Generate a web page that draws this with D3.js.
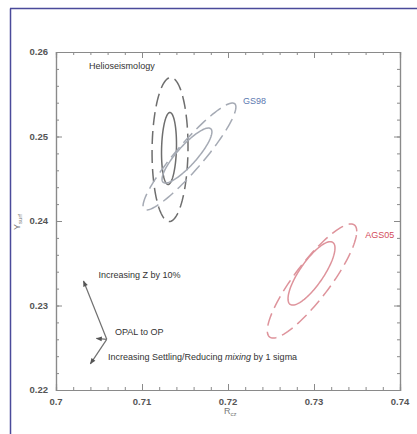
<!DOCTYPE html>
<html><head><meta charset="utf-8">
<script src="https://cdn.jsdelivr.net/npm/d3@7/dist/d3.min.js"></script>
<style>
html,body{margin:0;padding:0;background:#fff;}
svg{display:block;font-family:"Liberation Sans",Arial,Helvetica,sans-serif;}
</style></head>
<body>
<svg id="c" width="417" height="434"></svg>
<script>
// ---- data ----
const xTicks = [0.70, 0.71, 0.72, 0.73, 0.74];
const xTickLabels = ["0.7", "0.71", "0.72", "0.73", "0.74"];
const yTicks = [0.22, 0.23, 0.24, 0.25, 0.26];
const yTickLabels = ["0.22", "0.23", "0.24", "0.25", "0.26"];
// ellipses: name, center x, center y, half x-extent, half y-extent, correlation, dashed
const ellipseNames = ["helio-2s", "helio-1s", "gs98-2s", "gs98-1s", "ags05-2s", "ags05-1s"];
const ellipseCx  = [0.71326, 0.71314, 0.71552, 0.71523, 0.72977, 0.72971];
const ellipseCy  = [0.24846, 0.24858, 0.24763, 0.24775, 0.23290, 0.23380];
const ellipseRx  = [0.00209, 0.00087, 0.00540, 0.00290, 0.00520, 0.00273];
const ellipseRy  = [0.00852, 0.00426, 0.00633, 0.00325, 0.00675, 0.00375];
const ellipseRho = [0.04, 0.12, 0.925, 0.86, 0.87, 0.80];
const ellipseDashed = [true, false, true, false, true, false];
const ellipseGroup = ["helio", "helio", "gs98", "gs98", "ags05", "ags05"];
// arrows from a common origin
const arrowOrigin = [0.7059, 0.2260];
const arrowTipsX = [0.7032, 0.7047, 0.7040];
const arrowTipsY = [0.2329, 0.2261, 0.2231];
// labels
const labelText = ["Helioseismology", "GS98", "AGS05", "Increasing Z by 10%", "OPAL to OP"];
const labelX = [0.70385, 0.72175, 0.73595, 0.70495, 0.70685];
const labelY = [0.25800, 0.25390, 0.23800, 0.23330, 0.22645];

// ---- layout ----
const svg = d3.select("#c");
const M = {l: 56, r: 400, t: 52, b: 390};
const x = d3.scaleLinear().domain([0.70, 0.74]).range([M.l, M.r]);
const y = d3.scaleLinear().domain([0.22, 0.26]).range([M.b, M.t]);

const colors = {helio: "#6e6e6e", gs98: "#a5aab4", ags05: "#de939b"};
const labelColors = ["#333", "#5b78b0", "#d34a5a", "#333", "#333"];

// frame
svg.append("line").attr("x1", 10.5).attr("y1", 8.5).attr("x2", 10.5).attr("y2", 434).attr("stroke", "#4a4a9a").attr("stroke-width", 1.5);
svg.append("line").attr("x1", 10).attr("y1", 8.5).attr("x2", 417).attr("y2", 8.5).attr("stroke", "#4a4a9a").attr("stroke-width", 1.5);

const axisColor = "#8a8a8a";
const minorX = d3.range(0, 21).map(i => 0.70 + i * 0.002);
const minorY = d3.range(0, 21).map(i => 0.22 + i * 0.002);

function styleAxis(g) {
  g.select(".domain").attr("stroke", axisColor).attr("stroke-width", 1.2);
  g.selectAll(".tick line").attr("stroke", axisColor).attr("stroke-width", 1);
}
// minor ticks (inward)
svg.append("g").attr("transform", `translate(0,${M.b})`).call(d3.axisTop(x).tickValues(minorX).tickSize(3).tickFormat("")).call(styleAxis);
svg.append("g").attr("transform", `translate(0,${M.t})`).call(d3.axisBottom(x).tickValues(minorX).tickSize(3).tickFormat("")).call(styleAxis);
svg.append("g").attr("transform", `translate(${M.l},0)`).call(d3.axisRight(y).tickValues(minorY).tickSize(3).tickFormat("")).call(styleAxis);
svg.append("g").attr("transform", `translate(${M.r},0)`).call(d3.axisLeft(y).tickValues(minorY).tickSize(3).tickFormat("")).call(styleAxis);
// major ticks
svg.append("g").attr("transform", `translate(0,${M.b})`).call(d3.axisTop(x).tickValues(xTicks).tickSize(6).tickFormat("")).call(styleAxis);
svg.append("g").attr("transform", `translate(0,${M.t})`).call(d3.axisBottom(x).tickValues(xTicks).tickSize(6).tickFormat("")).call(styleAxis);
svg.append("g").attr("transform", `translate(${M.l},0)`).call(d3.axisRight(y).tickValues(yTicks).tickSize(6).tickFormat("")).call(styleAxis);
svg.append("g").attr("transform", `translate(${M.r},0)`).call(d3.axisLeft(y).tickValues(yTicks).tickSize(6).tickFormat("")).call(styleAxis);

// tick labels
svg.append("g").selectAll("text").data(xTicks).join("text")
  .attr("x", d => x(d)).attr("y", M.b + 15).attr("text-anchor", "middle")
  .attr("font-size", 9.5).attr("fill", "#555").attr("font-weight", "bold")
  .text((d, i) => xTickLabels[i]);
svg.append("g").selectAll("text").data(yTicks).join("text")
  .attr("x", M.l - 8).attr("y", d => y(d) + 3).attr("text-anchor", "end")
  .attr("font-size", 9.5).attr("fill", "#555").attr("font-weight", "bold")
  .text((d, i) => yTickLabels[i]);

// axis titles
const xt = svg.append("text").attr("x", 224).attr("y", 414).attr("font-size", 9).attr("fill", "#777");
xt.append("tspan").text("R");
xt.append("tspan").attr("font-size", 6).attr("dy", 2).text("cz");
const yt = svg.append("text").attr("transform", "translate(20,230) rotate(-90)").attr("font-size", 9).attr("fill", "#777");
yt.append("tspan").text("Y");
yt.append("tspan").attr("font-size", 6).attr("dy", 2).text("surf");

// ellipses
const tSteps = d3.range(0, 120);
const line = d3.line().curve(d3.curveLinearClosed);
svg.append("g").selectAll("path").data(ellipseNames).join("path")
  .attr("d", (n, i) => {
    const pts = tSteps.map(k => {
      const t = k / 120 * 2 * Math.PI;
      const px = ellipseCx[i] + ellipseRx[i] * Math.cos(t);
      const py = ellipseCy[i] + ellipseRy[i] * (ellipseRho[i] * Math.cos(t) + Math.sqrt(1 - ellipseRho[i] ** 2) * Math.sin(t));
      return [x(px), y(py)];
    });
    return line(pts);
  })
  .attr("fill", "none")
  .attr("stroke", (n, i) => colors[ellipseGroup[i]])
  .attr("stroke-width", 1.5)
  .attr("stroke-dasharray", (n, i) => ellipseDashed[i] ? "13,6" : null);

// arrows
const defs = svg.append("defs");
defs.append("marker").attr("id", "ah").attr("viewBox", "0 0 10 10").attr("refX", 9).attr("refY", 5)
  .attr("markerWidth", 6).attr("markerHeight", 5).attr("orient", "auto")
  .append("path").attr("d", "M0,1 L10,5 L0,9 Z").attr("fill", "#555");
svg.append("g").selectAll("line").data(arrowTipsX).join("line")
  .attr("x1", x(arrowOrigin[0])).attr("y1", y(arrowOrigin[1]))
  .attr("x2", (d, i) => x(d)).attr("y2", (d, i) => y(arrowTipsY[i]))
  .attr("stroke", "#707070").attr("stroke-width", 1.2)
  .attr("marker-end", "url(#ah)");

// labels
svg.append("g").selectAll("text").data(labelText).join("text")
  .attr("x", (d, i) => x(labelX[i])).attr("y", (d, i) => y(labelY[i]))
  .attr("font-size", 9).attr("fill", (d, i) => labelColors[i])
  .text(d => d);
const lt = svg.append("text").attr("x", x(0.70605)).attr("y", y(0.22355)).attr("font-size", 9).attr("fill", "#333");
lt.append("tspan").text("Increasing Settling/Reducing ");
lt.append("tspan").attr("font-style", "italic").text("mixing");
lt.append("tspan").text(" by 1 sigma");
</script>
</body></html>
